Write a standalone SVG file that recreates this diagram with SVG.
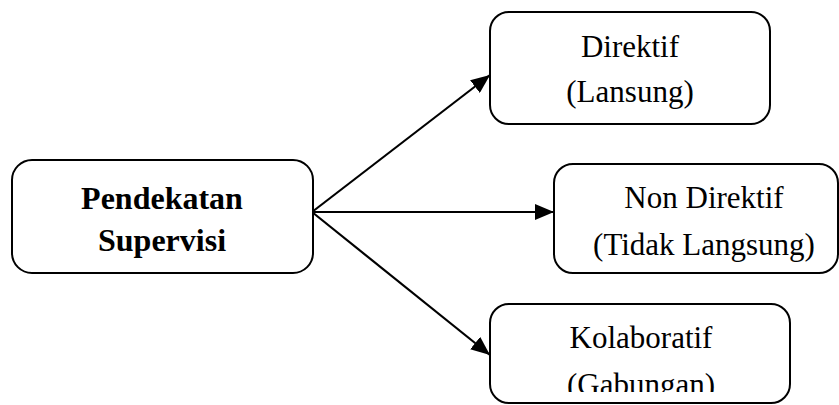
<svg xmlns="http://www.w3.org/2000/svg" width="839" height="405" viewBox="0 0 839 405">
  <style>
    .box { fill: #ffffff; stroke: #000000; stroke-width: 2; }
    .t { font-family: "Liberation Serif", "Times New Roman", serif; font-size: 31px; fill: #000000; text-anchor: middle; }
    .b { font-weight: bold; font-size: 32px; }
    .conn { stroke: #000000; stroke-width: 2.2; fill: none; }
  </style>
  <defs>
    <marker id="arrow" markerUnits="userSpaceOnUse" markerWidth="20" markerHeight="16" refX="19" refY="8" orient="auto">
      <path d="M0,0 L19,8 L0,16 Z" fill="#000000"/>
    </marker>
    <clipPath id="clipK">
      <rect x="490" y="300" width="300" height="92"/>
    </clipPath>
  </defs>
  <rect x="0" y="0" width="839" height="405" fill="#ffffff"/>
  <g id="connectors">
    <line class="conn" x1="312" y1="212" x2="490" y2="75" marker-end="url(#arrow)"/>
    <line class="conn" x1="312" y1="212" x2="554" y2="212" marker-end="url(#arrow)"/>
    <line class="conn" x1="312" y1="212" x2="490" y2="355" marker-end="url(#arrow)"/>
  </g>
  <g id="node-pendekatan">
    <rect class="box" x="12" y="160" width="301" height="113" rx="20" ry="20"/>
    <text class="t b" x="162" y="209">Pendekatan</text>
    <text class="t b" x="162" y="251">Supervisi</text>
  </g>
  <g id="node-direktif">
    <rect class="box" x="490" y="12" width="280" height="112" rx="19" ry="19"/>
    <text class="t" x="630" y="57">Direktif</text>
    <text class="t" x="630" y="102">(Lansung)</text>
  </g>
  <g id="node-nondirektif">
    <rect class="box" x="554" y="164" width="284" height="109" rx="19" ry="19"/>
    <text class="t" x="704" y="208">Non Direktif</text>
    <text class="t" x="704" y="255">(Tidak Langsung)</text>
  </g>
  <g id="node-kolaboratif">
    <rect class="box" x="490" y="304" width="300" height="99" rx="19" ry="19"/>
    <text class="t" x="641" y="348">Kolaboratif</text>
    <text class="t" x="641" y="395" clip-path="url(#clipK)">(Gabungan)</text>
  </g>
</svg>
